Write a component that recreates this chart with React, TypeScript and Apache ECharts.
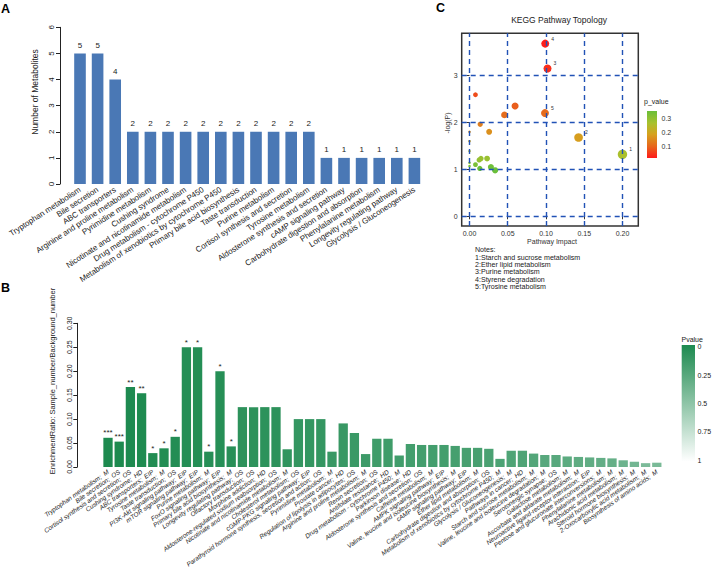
import React, { useEffect, useRef } from 'react';
import * as echarts from 'echarts';

const FONT = '"Liberation Sans", Arial, Helvetica, sans-serif';

// ---------- Panel A ----------
const aCategories = [
  'Tryptophan metabolism', 'Bile secretion', 'ABC transporters', 'Arginine and proline metabolism',
  'Pyrimidine metabolism', 'Cushing syndrome', 'Nicotinate and nicotinamide metabolism',
  'Drug metabolism - cytochrome P450', 'Metabolism of xenobiotics by cytochrome P450',
  'Primary bile acid biosynthesis', 'Taste transduction', 'Purine metabolism',
  'Cortisol synthesis and secretion', 'Tyrosine metabolism', 'Aldosterone synthesis and secretion',
  'cAMP signaling pathway', 'Carbohydrate digestion and absorption', 'Phenylalanine metabolism',
  'Longevity regulating pathway', 'Glycolysis / Gluconeogenesis',
];
const aCounts = [5, 5, 4, 2, 2, 2, 2, 2, 2, 2, 2, 2, 2, 2, 1, 1, 1, 1, 1, 1];

// ---------- Panel B ----------
const bPathways = [
  'Tryptophan metabolism', 'Bile secretion', 'Cortisol synthesis and secretion', 'Cushing syndrome',
  'ABC transporters', 'Tyrosine metabolism', 'Taste transduction', 'PI3K-Akt signaling pathway',
  'mTOR signaling pathway', 'Purine metabolism', 'FoxO signaling pathway', 'Primary bile acid biosynthesis',
  'Longevity regulating pathway', 'Olfactory transduction', 'Morphine addiction',
  'Aldosterone-regulated sodium reabsorption', 'Nicotinate and nicotinamide metabolism',
  'Cholesterol metabolism', 'cGMP-PKG signaling pathway',
  'Parathyroid hormone synthesis, secretion and action', 'Pyrimidine metabolism', 'Prostate cancer',
  'Regulation of lipolysis in adipocytes', 'Arginine and proline metabolism', 'Renin secretion',
  'Antifolate resistance', 'Drug metabolism - cytochrome P450', 'Parkinson disease',
  'Aldosterone synthesis and secretion', 'Caffeine metabolism', 'AMPK signaling pathway',
  'Valine, leucine and isoleucine biosynthesis', 'cAMP signaling pathway', 'Ether lipid metabolism',
  'Carbohydrate digestion and absorption', 'Metabolism of xenobiotics by cytochrome P450',
  'Glycolysis / Gluconeogenesis', 'Pathways in cancer', 'Starch and sucrose metabolism',
  'Valine, leucine and isoleucine degradation', 'Serotonergic synapse', 'Galactose metabolism',
  'Ascorbate and aldarate metabolism', 'Neuroactive ligand-receptor interaction',
  'Pentose and glucuronate interconversions', 'Phenylalanine metabolism', 'Arachidonic acid metabolism',
  'Steroid hormone biosynthesis', '2-Oxocarboxylic acid metabolism', 'Biosynthesis of amino acids',
];
const bClasses = [
  'M', 'OS', 'OS', 'HD', 'EIP', 'M', 'OS', 'EIP', 'EIP', 'M',
  'EIP', 'M', 'OS', 'OS', 'HD', 'OS', 'M', 'OS', 'EIP', 'OS',
  'M', 'HD', 'OS', 'M', 'OS', 'HD', 'M', 'HD', 'OS', 'M',
  'EIP', 'M', 'EIP', 'M', 'OS', 'M', 'M', 'HD', 'M', 'M',
  'OS', 'M', 'M', 'EIP', 'M', 'M', 'M', 'M', 'M', 'M',
];
const bRatios = [
  0.061, 0.053, 0.167, 0.154, 0.029, 0.039, 0.063, 0.25, 0.25, 0.032,
  0.2, 0.043, 0.125, 0.125, 0.125, 0.125, 0.037, 0.1, 0.1, 0.1,
  0.032, 0.091, 0.071, 0.027, 0.059, 0.059, 0.024, 0.048, 0.046, 0.046,
  0.046, 0.044, 0.04, 0.04, 0.038, 0.017, 0.034, 0.034, 0.028, 0.025,
  0.025, 0.022, 0.021, 0.02, 0.019, 0.018, 0.014, 0.011, 0.008, 0.009,
];
const bStars = [
  '***', '***', '**', '**', '*', '*', '*', '*', '*', '*', '*', '*',
];
const bPValues = [
  0.0004, 0.0007, 0.004, 0.006, 0.018, 0.022, 0.028, 0.032, 0.032, 0.038,
  0.042, 0.047, 0.07, 0.07, 0.07, 0.07, 0.09, 0.1, 0.1, 0.1,
  0.12, 0.12, 0.13, 0.14, 0.15, 0.15, 0.16, 0.17, 0.17, 0.17,
  0.17, 0.18, 0.19, 0.19, 0.2, 0.21, 0.22, 0.22, 0.24, 0.26,
  0.26, 0.28, 0.29, 0.3, 0.31, 0.32, 0.35, 0.38, 0.42, 0.41,
];
const bLegendTicks = [0, 0.25, 0.5, 0.75, 1];

// ---------- Panel C ----------
const cImpact = [
  0.2, 0.1426, 0.102, 0.099, 0.0987, 0.0596, 0.0457, 0.0078, 0.014, 0.0257,
  0, 0, 0, 0, 0, 0.0078, 0.0126, 0.015, 0.0135, 0.023, 0.028, 0.0335,
];
const cNegLogP = [
  1.32, 1.68, 3.15, 3.68, 2.2, 2.35, 2.16, 2.59, 1.96, 1.8,
  1.8, 1.6, 1.39, 1.14, 1.07, 1.1, 1.2, 1.23, 1.02, 1.23, 1.05, 0.98,
];
const cPValues = [
  0.267, 0.186, 0.043, 0.025, 0.111, 0.095, 0.115, 0.075, 0.141, 0.165,
  0.165, 0.202, 0.249, 0.32, 0.343, 0.333, 0.301, 0.292, 0.361, 0.292, 0.35, 0.375,
];
const cNoteIds = ['1', '2', '3', '4', '5'];
const cNotes = [
  '1:Starch and sucrose metabolism',
  '2:Ether lipid metabolism',
  '3:Purine metabolism',
  '4:Styrene degradation',
  '5:Tyrosine metabolism',
];
const cXTicks = [0, 0.05, 0.1, 0.15, 0.2];
const cYTicks = [0, 1, 2, 3];
const cLegendTicks = [0.1, 0.2, 0.3];

// ---------- colour helpers ----------
function hexToRgb(h: string) {
  const n = parseInt(h.slice(1), 16);
  return [(n >> 16) & 255, (n >> 8) & 255, n & 255];
}
function mix(a: string, b: string, t: number) {
  const A = hexToRgb(a), B = hexToRgb(b);
  const c = A.map((v, i) => Math.round(v + (B[i] - v) * t));
  return `rgb(${c[0]},${c[1]},${c[2]})`;
}
const GREEN_TOP = '#1d8a4f';
const greenFor = (p: number) => mix(GREEN_TOP, '#ffffff', Math.max(0, Math.min(1, p)));

const C_P_MAX = 0.357, C_P_MIN = 0.021;
const cStops: [number, string][] = [
  [0.357, '#6abf3a'],
  [0.27, '#a9c12e'],
  [0.19, '#d6a11e'],
  [0.1, '#e8631c'],
  [0.021, '#ff1a1a'],
];
function pColor(p: number) {
  if (p >= cStops[0][0]) return cStops[0][1];
  for (let i = 0; i < cStops.length - 1; i++) {
    const [p0, c0] = cStops[i];
    const [p1, c1] = cStops[i + 1];
    if (p <= p0 && p >= p1) return mix(c0, c1, (p0 - p) / (p0 - p1));
  }
  return cStops[cStops.length - 1][1];
}
const sizeFor = (impact: number) => 2.6 + 12 * Math.pow(impact, 0.35);

export default function App() {
  const ref = useRef<HTMLDivElement>(null);
  useEffect(() => {
    const chart = echarts.init(ref.current!, null, { renderer: 'svg' });

    const bLabels = bPathways.map((p, i) => `${p};  ${bClasses[i]}`);

    const txt = (text: string, x: number, y: number, extra: any = {}, rot = 0) => ({
      type: 'text',
      x, y, rotation: rot,
      style: {
        text, fill: extra.fill || '#222', fontSize: extra.fontSize || 8,
        fontFamily: FONT, fontWeight: extra.fontWeight || 'normal',
        align: extra.align || 'left', verticalAlign: extra.verticalAlign || 'middle',
        textAlign: extra.align || 'left', textVerticalAlign: extra.verticalAlign || 'middle',
      },
    });

    const graphics: any[] = [
      txt('A', 1, 9, { fontSize: 12.5, fontWeight: 'bold', fill: '#000' }),
      txt('B', 1, 288, { fontSize: 12.5, fontWeight: 'bold', fill: '#000' }),
      txt('C', 436, 8, { fontSize: 12.5, fontWeight: 'bold', fill: '#000' }),
      txt('Number of Metabolites', 35, 92, { fontSize: 8.5, align: 'center' }, Math.PI / 2),
      txt('EnrichmentRatio: Sample_number/Background_number', 52.5, 381, { fontSize: 7.5, align: 'center' }, Math.PI / 2),
      txt('KEGG Pathway Topology', 559, 20, { fontSize: 8.5, align: 'center' }),
      txt('Pathway Impact', 552, 241, { fontSize: 7, align: 'center', fill: '#333' }),
      txt('-log(P)', 447, 123, { fontSize: 7, align: 'center', fill: '#333' }, Math.PI / 2),
      txt('Notes:', 475, 250, { fontSize: 7.1 }),
      ...cNotes.map((n, i) => txt(n, 475, 257.6 + i * 7.3, { fontSize: 7.1 })),
      // Panel B legend
      txt('Pvalue', 681.5, 339.5, { fontSize: 7 }),
      {
        type: 'rect',
        shape: { x: 681.7, y: 345, width: 13.3, height: 116.7 },
        style: {
          fill: new echarts.graphic.LinearGradient(0, 0, 0, 1, [
            { offset: 0, color: GREEN_TOP },
            { offset: 1, color: '#ffffff' },
          ]),
        },
      },
      ...bLegendTicks.map((v) => txt(String(v), 697.5, 346.7 + v * (460 - 346.7), { fontSize: 7 })),
      // Panel C legend
      txt('p_value', 644, 101, { fontSize: 7 }),
      {
        type: 'rect',
        shape: { x: 647, y: 111, width: 10, height: 47 },
        style: {
          fill: new echarts.graphic.LinearGradient(0, 0, 0, 1,
            cStops.map(([p, c]) => ({ offset: (C_P_MAX - p) / (C_P_MAX - C_P_MIN), color: c }))),
        },
      },
      ...cLegendTicks.map((v) => txt(v.toFixed(1), 661.5, 111 + ((C_P_MAX - v) / (C_P_MAX - C_P_MIN)) * 47, { fontSize: 7, fill: '#333' })),
    ];

    const option: any = {
      animation: false,
      backgroundColor: '#ffffff',
      textStyle: { fontFamily: FONT },
      grid: [
        { left: 71.2, top: 27.3, width: 352, height: 156.7 },
        { left: 102.4, top: 323.3, width: 560, height: 143.7 },
        { left: 461.7, top: 33.3, width: 176.6, height: 192.7, show: true, borderColor: '#333', borderWidth: 1.5, backgroundColor: 'rgba(0,0,0,0)' },
      ],
      xAxis: [
        {
          gridIndex: 0, type: 'category', data: aCategories,
          axisLine: { show: false }, axisTick: { show: false }, splitLine: { show: false },
          axisLabel: { interval: 0, rotate: 33, fontSize: 8, color: '#222', margin: 5 },
        },
        {
          gridIndex: 1, type: 'category', data: bLabels,
          axisLine: { show: false }, axisTick: { show: false }, splitLine: { show: false },
          axisLabel: { interval: 0, rotate: 35, fontSize: 6.4, fontStyle: 'italic', color: '#222', margin: 4 },
        },
        {
          gridIndex: 2, type: 'value', min: -0.0102, max: 0.2207,
          axisLine: { show: false }, splitLine: { show: false },
          axisTick: { show: true, customValues: cXTicks, length: 3, lineStyle: { color: '#333' } },
          axisLabel: { customValues: cXTicks, formatter: (v: number) => v.toFixed(2), fontSize: 7, color: '#333', margin: 4 },
        },
      ],
      yAxis: [
        {
          gridIndex: 0, type: 'value', min: 0, max: 6, interval: 1, offset: 11.2,
          axisLine: { show: true, lineStyle: { color: '#222' } },
          axisTick: { show: true, length: 4, lineStyle: { color: '#222' } },
          axisLabel: { rotate: 90, fontSize: 8, color: '#222', margin: 5 },
          splitLine: { show: false },
        },
        {
          gridIndex: 1, type: 'value', min: 0, max: 0.3, interval: 0.05, offset: 25.1,
          axisLine: { show: true, lineStyle: { color: '#222' } },
          axisTick: { show: true, length: 4, lineStyle: { color: '#222' } },
          axisLabel: { rotate: 90, fontSize: 7, color: '#222', margin: 4, formatter: (v: number) => v.toFixed(2) },
          splitLine: { show: false },
        },
        {
          gridIndex: 2, type: 'value', min: -0.207, max: 3.9,
          axisLine: { show: false }, splitLine: { show: false },
          axisTick: { show: true, customValues: cYTicks, length: 3, lineStyle: { color: '#333' } },
          axisLabel: { customValues: cYTicks, fontSize: 7, color: '#333', margin: 4 },
        },
      ],
      series: [
        {
          type: 'bar', xAxisIndex: 0, yAxisIndex: 0, data: aCounts,
          barCategoryGap: '34%',
          itemStyle: { color: '#4a78b5' },
          label: { show: true, position: 'top', distance: 4, fontSize: 8, color: '#222' },
        },
        {
          type: 'bar', xAxisIndex: 1, yAxisIndex: 1,
          data: bRatios.map((v, i) => ({ value: v, itemStyle: { color: greenFor(bPValues[i]) } })),
          barCategoryGap: '17%',
          label: {
            show: true, position: 'top', distance: 1, fontSize: 8, color: '#222',
            formatter: (p: any) => bStars[p.dataIndex] || '',
          },
        },
        {
          type: 'scatter', xAxisIndex: 2, yAxisIndex: 2, z: 1,
          data: [],
          markLine: {
            silent: true, symbol: 'none', label: { show: false },
            lineStyle: { color: '#2152b6', type: [5, 4], width: 1.4 },
            data: [
              ...cXTicks.map((v) => ({ xAxis: v })),
              ...cYTicks.map((v) => ({ yAxis: v })),
            ],
          },
        },
        {
          type: 'scatter', xAxisIndex: 2, yAxisIndex: 2, z: 3,
          data: cImpact.map((x, i) => ({
            value: [x, cNegLogP[i]],
            symbolSize: sizeFor(x),
            itemStyle: { color: pColor(cPValues[i]), opacity: 1 },
            label: { show: !!cNoteIds[i], formatter: cNoteIds[i] || '' },
          })),
          label: { position: 'right', distance: 2, offset: [0, -5], fontSize: 5, color: '#333' },
        },
      ],
      graphic: graphics,
    };

    chart.setOption(option);
    return () => chart.dispose();
  }, []);

  return (
    <div
      ref={ref}
      style={{ position: 'fixed', left: 0, top: 0, width: 713, height: 578, background: '#fff' }}
    />
  );
}
